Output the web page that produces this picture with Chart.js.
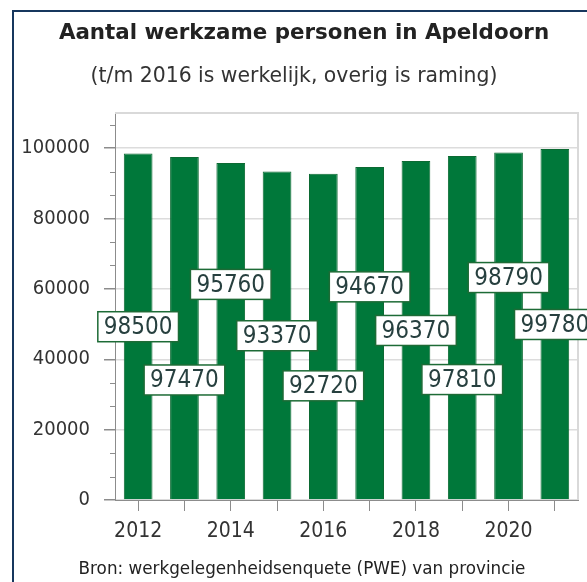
<!DOCTYPE html>
<html>
<head>
<meta charset="utf-8">
<script src="https://cdn.jsdelivr.net/npm/chart.js@4/dist/chart.umd.min.js"></script>
<style>
  html, body { margin: 0; padding: 0; background: #fff; }
  #wrap { position: relative; width: 587px; height: 582px; overflow: hidden;
          font-family: "DejaVu Sans", sans-serif; }
  #frame { position: absolute; left: 12px; top: 10px; right: -4px; bottom: -4px;
           border-left: 2px solid #17375e; border-top: 2px solid #17375e; }
  #box { position: absolute; left: 0; top: 0; width: 587px; height: 582px; }
  .tekst { position: absolute; width: 600px; text-align: center; white-space: nowrap; }
  #titel { left: 4px; top: 19px; line-height: 26px; font-size: 21.4px; font-weight: bold; color: #222; }
  #sub { left: -6px; top: 63px; line-height: 24px; font-size: 20.4px; color: #333; }
  #bron { left: 2px; top: 558px; line-height: 20px; font-size: 16.8px; color: #222; }
</style>
</head>
<body>
<div id="wrap">
  <div id="box"><canvas id="bar-chart"></canvas></div>
  <div id="frame"></div>
  <div class="tekst" id="titel">Aantal werkzame personen in Apeldoorn</div>
  <div class="tekst" id="sub">(t/m 2016 is werkelijk, overig is raming)</div>
  <div class="tekst" id="bron">Bron: werkgelegenheidsenquete (PWE) van provincie</div>
</div>
<script>
var jaren = ["2012", "2013", "2014", "2015", "2016", "2017", "2018", "2019", "2020", "2021"];
var werkzaam = [98500, 97470, 95760, 93370, 92720, 94670, 96370, 97810, 98790, 99780];
var yTicks = [0, 20000, 40000, 60000, 80000, 100000];

var fontFam = '"DejaVu Sans Condensed", "Liberation Sans", sans-serif';
var groen = "#00783a";

// frame round the plot area plus the small in-between tick marks on the y axis
var plotFrame = {
    id: 'plotFrame',
    beforeDatasetsDraw: function(chart){
        var a = chart.chartArea, ctx = chart.ctx, y = chart.scales.y;
        ctx.save();
        ctx.strokeStyle = "#d9d9d9";
        ctx.lineWidth = 2;
        ctx.beginPath();
        ctx.moveTo(a.left, a.top);
        ctx.lineTo(a.right, a.top);
        ctx.lineTo(a.right, a.bottom);
        ctx.stroke();
        ctx.strokeStyle = "#8c8c8c";
        ctx.lineWidth = 1;
        for(var i = 0; i < yTicks.length; i++){
            var step = 20000 / 3;
            for(var k = 1; k <= 2; k++){
                var v = yTicks[i] + k * step;
                if(v > y.max) break;
                var py = Math.round(y.getPixelForValue(v)) + 0.5;
                ctx.beginPath();
                ctx.moveTo(a.left - 5, py);
                ctx.lineTo(a.left, py);
                ctx.stroke();
            }
        }
        ctx.restore();
    }
};

// value labels in white boxes, staggered over three heights
var waardeLabels = {
    id: 'waardeLabels',
    afterDatasetsDraw: function(chart){
        var ctx = chart.ctx, y = chart.scales.y;
        var hoogte = [0.5, 0.35, 0.64];
        var bars = chart.getDatasetMeta(0).data;
        ctx.save();
        ctx.font = "24px " + fontFam;
        ctx.textAlign = "center";
        ctx.textBaseline = "middle";
        bars.forEach(function(bar, i){
            var val = chart.data.datasets[0].data[i];
            var txt = String(val);
            var cy = y.getPixelForValue(val * hoogte[i % 3]);
            var w = ctx.measureText(txt).width + 12;
            var h = 30;
            ctx.fillStyle = "#fff";
            ctx.fillRect(bar.x - w / 2, cy - h / 2, w, h);
            ctx.strokeStyle = "#1d6b36";
            ctx.lineWidth = 1.5;
            ctx.strokeRect(bar.x - w / 2, cy - h / 2, w, h);
            ctx.fillStyle = "#27403f";
            ctx.fillText(txt, bar.x, cy + 1);
        });
        ctx.restore();
    }
};

var ctx = document.getElementById("bar-chart");
var chart = new Chart(ctx, {
    type: "bar",
    data: {
        labels: jaren,
        datasets: [{
            data: werkzaam,
            backgroundColor: groen,
            borderColor: "#0c6a33",
            borderWidth: 1,
            categoryPercentage: 1,
            barPercentage: 0.62
        }]
    },
    options: {
        responsive: true,
        maintainAspectRatio: false,
        animation: false,
        layout: { padding: { left: 0, right: 9, top: 113, bottom: 0 } },
        plugins: {
            legend: { display: false },
            tooltip: { enabled: false }
        },
        scales: {
            x: {
                offset: true,
                grid: { display: true, drawOnChartArea: false, offset: false,
                        tickLength: 11, tickColor: "#8c8c8c" },
                border: { color: "#8c8c8c", width: 1 },
                ticks: {
                    autoSkip: false,
                    maxRotation: 0,
                    padding: 8,
                    color: "#333",
                    font: { family: fontFam, size: 21 },
                    callback: function(v, i){ return i % 2 == 0 ? jaren[i] : ""; }
                },
                afterFit: function(scale){ scale.height = 82; }
            },
            y: {
                min: 0,
                max: 110000,
                afterBuildTicks: function(scale){
                    scale.ticks = yTicks.map(function(v){ return { value: v }; });
                },
                grid: { color: "#dcdcdc", lineWidth: 1.5, tickLength: 11, tickColor: "#8c8c8c" },
                border: { color: "#8c8c8c", width: 1 },
                ticks: {
                    padding: 14,
                    color: "#333",
                    font: { family: fontFam, size: 20 },
                    callback: function(v){ return String(v); }
                },
                afterFit: function(scale){ scale.width = 115; }
            }
        }
    },
    plugins: [plotFrame, waardeLabels]
});
</script>
</body>
</html>
